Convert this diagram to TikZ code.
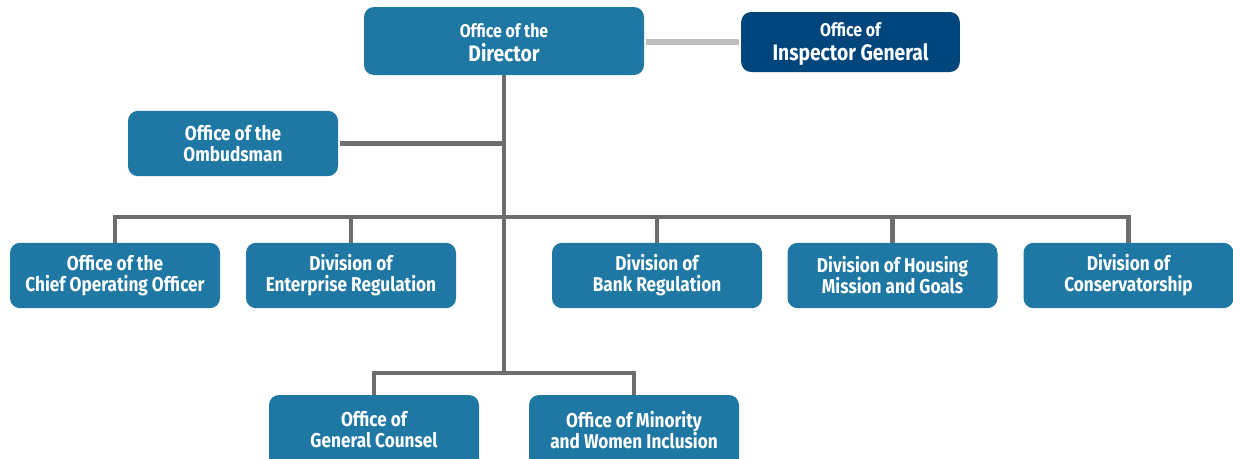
\documentclass[tikz,border=0pt]{standalone}
\usepackage{fontspec}
\setmainfont{Fira Sans}[FakeStretch=0.86,UprightFont=* Bold]
\definecolor{boxblue}{HTML}{1F77A3}
\definecolor{igblue}{HTML}{00457B}
\definecolor{linegray}{HTML}{6D6D6F}
\definecolor{lightgray}{HTML}{BDBDBF}
\begin{document}
\begin{tikzpicture}[x=0.75pt,y=-0.75pt,
  orgbox/.style={fill=boxblue,rounded corners=7.5pt,text=white,align=center,
    minimum width=157.5pt,minimum height=49pt,inner sep=0pt,
    font=\fontsize{15}{15.75}\selectfont},
  lbl/.style={text=white,align=center,font=\fontsize{15}{15.75}\selectfont},
  conn/.style={draw=linegray,line width=3.6pt}]
\useasboundingbox (0,0) rectangle (1233,458);
% nodes
\node[orgbox,minimum width=210pt,minimum height=51pt] (dir) at (504,41)
  {\rule{0pt}{13pt}{\fontsize{13.8}{16}\selectfont Office of the}\\[2pt]{\fontsize{16.8}{16}\selectfont Director}};
\node[orgbox,fill=igblue,minimum width=164pt,minimum height=45pt] (ig) at (850.5,42)
  {\rule{0pt}{13pt}{\fontsize{13.8}{16}\selectfont Office of}\\[2pt]{\fontsize{16.8}{16}\selectfont Inspector General}};
\node[orgbox] (omb) at (233,143.5) {Office of the\\Ombudsman};
\node[orgbox] (coo) at (115,275.5) {Office of the\\Chief Operating Officer};
\node[orgbox] (ent) at (351,275.5) {Division of\\Enterprise Regulation};
\node[orgbox] (bank) at (657,275.5) {Division of\\Bank Regulation};
\node[orgbox] (hous) at (892.5,275.5) {Division of Housing\\Mission and Goals};
\node[orgbox] (cons) at (1128.5,275.5) {Division of\\Conservatorship};
\node[orgbox,minimum height=60pt] (gc) at (374,435) {};
\node[orgbox,minimum height=60pt] (mwi) at (634,435) {};
\node[lbl] (gct) at (374,430) {Office of\\General Counsel};
\node[lbl] (mwit) at (634,430) {Office of Minority\\and Women Inclusion};
% coordinates
\coordinate (trunkbot) at (504,373);
\coordinate (bus) at (504,217);
% connectors
\draw[draw=lightgray,line width=3.9pt] ([xshift=1.5pt]dir.east |- ig.west) -- ([xshift=-1.5pt]ig.west);
\draw[conn] (dir.south) -- (trunkbot);
\draw[conn] ([xshift=1.5pt]omb.east) -- (omb.east -| trunkbot);
\draw[conn] (coo.north) |- (bus);
\draw[conn] (ent.north) |- (bus);
\draw[conn] (bank.north) |- (bus);
\draw[conn] (hous.north) |- (bus);
\draw[conn] (cons.north) |- (bus);
\draw[conn] (gc.north) |- (trunkbot);
\draw[conn] (mwi.north) |- (trunkbot);
\end{tikzpicture}
\end{document}
